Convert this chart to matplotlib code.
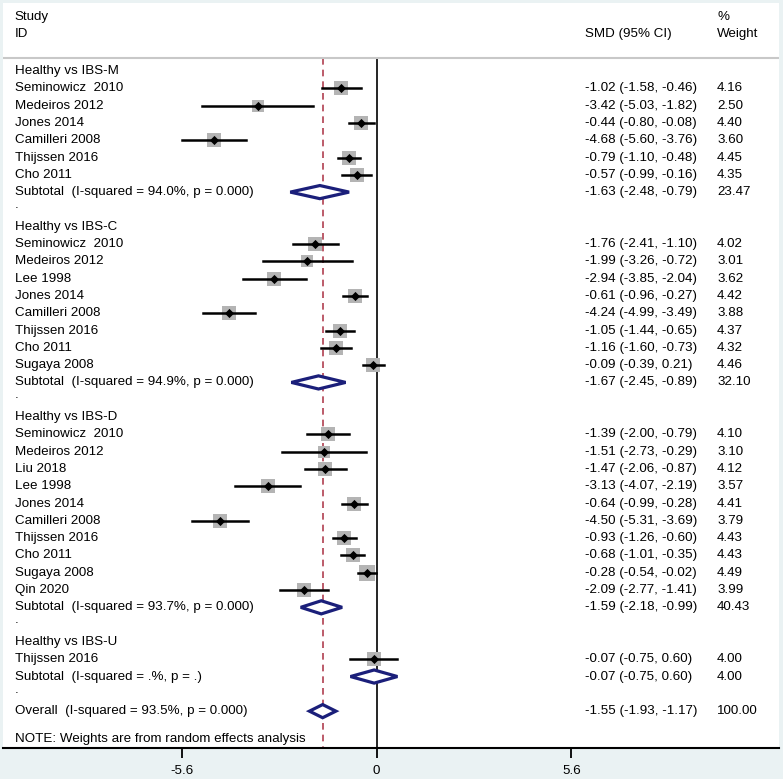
import matplotlib
matplotlib.use("Agg")
import matplotlib.pyplot as plt
from matplotlib.patches import Polygon
import numpy as np

plt.rcParams["font.family"] = ["Liberation Sans", "DejaVu Sans"]

# ── data ────────────────────────────────────────────────────────────────────
GROUPS = ["Healthy vs IBS-M", "Healthy vs IBS-C", "Healthy vs IBS-D", "Healthy vs IBS-U"]

STUDIES = [
    ["Seminowicz  2010", "Medeiros 2012", "Jones 2014", "Camilleri 2008", "Thijssen 2016", "Cho 2011"],
    ["Seminowicz  2010", "Medeiros 2012", "Lee 1998", "Jones 2014", "Camilleri 2008",
     "Thijssen 2016", "Cho 2011", "Sugaya 2008"],
    ["Seminowicz  2010", "Medeiros 2012", "Liu 2018", "Lee 1998", "Jones 2014", "Camilleri 2008",
     "Thijssen 2016", "Cho 2011", "Sugaya 2008", "Qin 2020"],
    ["Thijssen 2016"],
]
SMD = [
    [-1.02, -3.42, -0.44, -4.68, -0.79, -0.57],
    [-1.76, -1.99, -2.94, -0.61, -4.24, -1.05, -1.16, -0.09],
    [-1.39, -1.51, -1.47, -3.13, -0.64, -4.50, -0.93, -0.68, -0.28, -2.09],
    [-0.07],
]
LO = [
    [-1.58, -5.03, -0.80, -5.60, -1.10, -0.99],
    [-2.41, -3.26, -3.85, -0.96, -4.99, -1.44, -1.60, -0.39],
    [-2.00, -2.73, -2.06, -4.07, -0.99, -5.31, -1.26, -1.01, -0.54, -2.77],
    [-0.75],
]
HI = [
    [-0.46, -1.82, -0.08, -3.76, -0.48, -0.16],
    [-1.10, -0.72, -2.04, -0.27, -3.49, -0.65, -0.73, 0.21],
    [-0.79, -0.29, -0.87, -2.19, -0.28, -3.69, -0.60, -0.35, -0.02, -1.41],
    [0.60],
]
WEIGHT = [
    [4.16, 2.50, 4.40, 3.60, 4.45, 4.35],
    [4.02, 3.01, 3.62, 4.42, 3.88, 4.37, 4.32, 4.46],
    [4.10, 3.10, 4.12, 3.57, 4.41, 3.79, 4.43, 4.43, 4.49, 3.99],
    [4.00],
]
SUB_LABEL = ["Subtotal  (I-squared = 94.0%, p = 0.000)",
             "Subtotal  (I-squared = 94.9%, p = 0.000)",
             "Subtotal  (I-squared = 93.7%, p = 0.000)",
             "Subtotal  (I-squared = .%, p = .)"]
SUB_SMD = [-1.63, -1.67, -1.59, -0.07]
SUB_LO = [-2.48, -2.45, -2.18, -0.75]
SUB_HI = [-0.79, -0.89, -0.99, 0.60]
SUB_W = [23.47, 32.10, 40.43, 4.00]

OVERALL_LABEL = "Overall  (I-squared = 93.5%, p = 0.000)"
OV_SMD, OV_LO, OV_HI, OV_W = -1.55, -1.93, -1.17, 100.00

XTICKS = [-5.6, 0, 5.6]

NAVY = "#1b1f7a"
RED = "#b04050"
BOX = "#b4b4b4"
BG = "#eaf2f3"
FS = 9.6

# ── figure ──────────────────────────────────────────────────────────────────
W, H = 783, 779
fig = plt.figure(figsize=(W / 100, H / 100), dpi=100, facecolor=BG)
ax = fig.add_axes([3 / W, (H - 748) / H, 776 / W, 745 / H])
ax.set_facecolor("white")
ax.set_xlim(-10.74, 11.57)
ax.set_ylim(40.13, -2.93)
for s in ["left", "right", "top"]:
    ax.spines[s].set_visible(False)
ax.spines["bottom"].set_linewidth(1.5)
ax.set_yticks([])
ax.set_xticks(XTICKS)
ax.set_xticklabels(["-5.6", "0", "5.6"], fontsize=FS)
ax.tick_params(axis="x", length=7, width=1.3, pad=5)

X_LABEL, X_CI, X_W = -10.4, 6.0, 9.79


def left(y, s):
    ax.text(X_LABEL, y, s, fontsize=FS, va="center", ha="left")


def right_cols(y, est, lo, hi, w):
    ax.text(X_CI, y, f"{est:.2f} ({lo:.2f}, {hi:.2f})", fontsize=FS, va="center", ha="left")
    ax.text(X_W, y, f"{w:.2f}", fontsize=FS, va="center", ha="left")


def diamond(y, est, lo, hi, h=0.38):
    ax.add_patch(Polygon([[lo, y], [est, y - h], [hi, y], [est, y + h]], closed=True,
                         facecolor="white", edgecolor=NAVY, linewidth=2.3, zorder=4))


# header
ax.text(X_LABEL, -2.12, "Study", fontsize=FS, va="center")
ax.text(X_LABEL, -1.12, "ID", fontsize=FS, va="center")
ax.text(X_CI, -1.12, "SMD (95% CI)", fontsize=FS, va="center")
ax.text(X_W, -2.12, "%", fontsize=FS, va="center")
ax.text(X_W, -1.12, "Weight", fontsize=FS, va="center")
ax.axhline(0.25, color="#c8c8c8", linewidth=1.5)

row = 1
for g in range(len(GROUPS)):
    left(row, GROUPS[g])
    row += 1
    for name, e, lo, hi, w in zip(STUDIES[g], SMD[g], LO[g], HI[g], WEIGHT[g]):
        left(row, name)
        side = 7.1 * np.sqrt(w) * 0.72
        ax.plot([lo, hi], [row, row], color="black", linewidth=1.8, zorder=3)
        ax.scatter([e], [row], marker="s", s=side ** 2, color=BOX, zorder=2, linewidths=0)
        ax.scatter([e], [row], marker="D", s=22, color="black", zorder=5, linewidths=0)
        right_cols(row, e, lo, hi, w)
        row += 1
    left(row, SUB_LABEL[g])
    diamond(row, SUB_SMD[g], SUB_LO[g], SUB_HI[g])
    right_cols(row, SUB_SMD[g], SUB_LO[g], SUB_HI[g], SUB_W[g])
    row += 1
    left(row - 0.25, ".")
    row += 1

left(row, OVERALL_LABEL)
diamond(row, OV_SMD, OV_LO, OV_HI)
right_cols(row, OV_SMD, OV_LO, OV_HI, OV_W)
left(row + 1.62, "NOTE: Weights are from random effects analysis")

# reference lines
ax.plot([0, 0], [0.25, 40.13], color="black", linewidth=1.2, zorder=1)
ax.plot([OV_SMD, OV_SMD], [0.25, 40.13], color=RED, linewidth=1.2,
        linestyle=(0, (4, 3)), zorder=1)

fig.savefig("out.png", dpi=100, facecolor=BG)
